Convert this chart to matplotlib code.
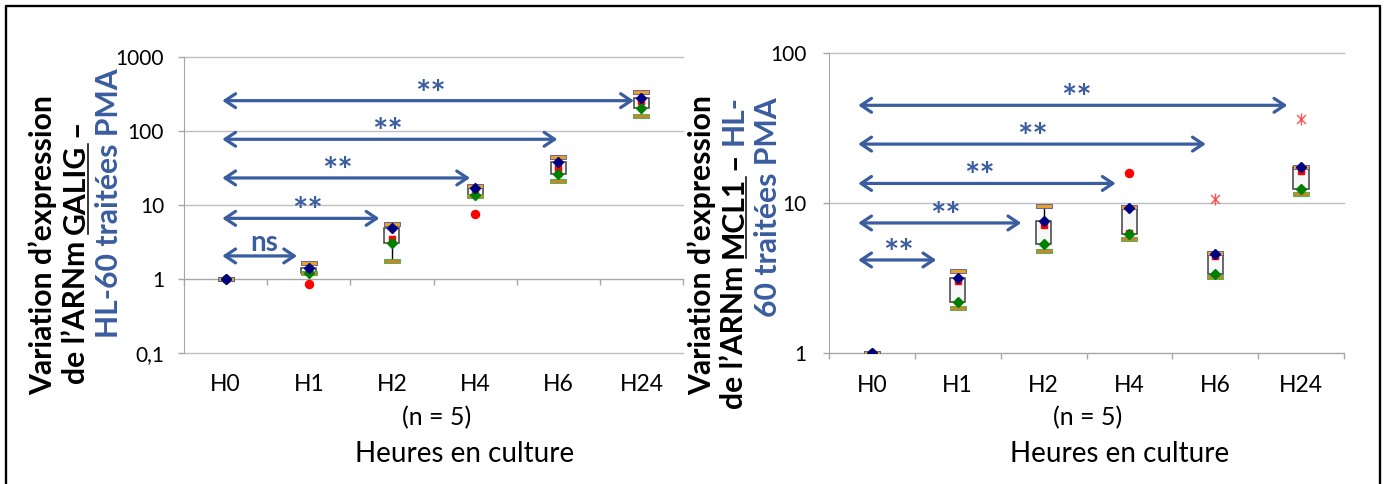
import matplotlib
matplotlib.use('Agg')
import numpy as np
import matplotlib.pyplot as plt
from matplotlib.path import Path
from matplotlib.lines import Line2D

plt.rcParams['font.family'] = ['Lato', 'DejaVu Sans']

W, H = 1386, 484
cats = ['H0', 'H1', 'H2', 'H4', 'H6', 'H24']

# GALIG (left panel)
galig_max = [1.0, 1.63, 5.5, 18.1, 44.5, 340]
galig_q3 = [1.0, 1.40, 4.85, 17.1, 38.5, 282]
galig_med = [1.0, 1.29, 3.45, 15.9, 31.9, 254]
galig_q1 = [1.0, 1.19, 3.1, 13.6, 26.5, 203]
galig_min = [1.0, 1.20, 1.77, 13.4, 21.3, 158]
galig_out_x = [1, 3]
galig_out_y = [0.86, 7.6]
# significance: start, end, height, label, label x
galig_sig = [(-0.04, 0.86, 2.05, 'ns', 0.47),
             (-0.04, 1.85, 6.6, '**', 0.98),
             (-0.04, 2.94, 23.2, '**', 1.34),
             (-0.04, 3.99, 77.3, '**', 1.95),
             (-0.04, 4.91, 257, '**', 2.47)]

# MCL1 (right panel)
mcl1_max = [1.0, 3.54, 9.6, 9.36, 4.66, 17.5]
mcl1_q3 = [1.0, 3.18, 7.62, 9.2, 4.59, 17.4]
mcl1_med = [1.0, 3.03, 7.13, 6.35, 4.43, 16.3]
mcl1_q1 = [1.0, 2.18, 5.33, 6.2, 3.35, 12.4]
mcl1_min = [1.0, 1.99, 4.79, 5.75, 3.19, 11.4]
mcl1_out_x = [3]
mcl1_out_y = [15.8]
mcl1_ext_x = [4, 5]
mcl1_ext_y = [10.6, 36.5]
mcl1_sig = [(-0.16, 0.75, 4.17, '**', 0.31),
            (-0.16, 1.74, 7.36, '**', 0.86),
            (-0.16, 2.84, 13.5, '**', 1.25),
            (-0.16, 3.89, 24.7, '**', 1.87),
            (-0.16, 4.84, 44.8, '**', 2.38)]

BLUE = '#3A5DA0'
GRID = '#BFBFBF'
AXC = '#A6A6A6'

cap = Path([(-1, -0.2), (1, -0.2), (1, 0.2), (-1, 0.2), (-1, -0.2)],
           [Path.MOVETO, Path.LINETO, Path.LINETO, Path.LINETO, Path.CLOSEPOLY])
star = Path([(0, -1), (0, 1), (-0.75, -0.75), (0.75, 0.75), (-0.75, 0.75), (0.75, -0.75)],
            [Path.MOVETO, Path.LINETO] * 3)

fig = plt.figure(figsize=(W / 100, H / 100), dpi=100, facecolor='white')
ax1 = fig.add_axes([184 / W, (H - 353) / H, 499 / W, 296 / H])
ax2 = fig.add_axes([829 / W, (H - 353) / H, 515 / W, 300 / H])


def boxes(ax, wmax, q3, med, q1, wmin):
    x = np.arange(len(cats))
    q3 = np.array(q3)
    q1 = np.array(q1)
    ax.vlines(x, q3, wmax, color='black', lw=1, zorder=2)
    ax.vlines(x, wmin, q1, color='black', lw=1, zorder=2)
    ax.bar(x, q3 - q1, bottom=q1, width=0.18, color='#F8F8F8',
           edgecolor='#404040', lw=1.1, zorder=3)
    ax.plot(x, wmin, ls='none', marker=cap, ms=12.2, mfc='#C8862A',
            mec='#3CB043', mew=0.6, zorder=4)
    ax.plot(x, wmax, ls='none', marker=cap, ms=12.2, mfc='#E8A41C',
            mec='#5050B0', mew=0.6, zorder=4)
    ax.plot(x, med, ls='none', marker='s', ms=5, color='red', zorder=5)
    ax.plot(x, q1, ls='none', marker='D', ms=5.5, color='#008000', zorder=6)
    ax.plot(x, q3, ls='none', marker='D', ms=5.5, color='#000080', zorder=7)


def sig(ax, arrows):
    for x0, x1, y, lab, lx in arrows:
        ax.annotate('', xy=(x1, y), xytext=(x0, y),
                    arrowprops=dict(arrowstyle='<->,head_length=0.75,head_width=0.5',
                                    color=BLUE, lw=2.3, shrinkA=0, shrinkB=0,
                                    mutation_scale=10), zorder=8)
        if lab == 'ns':
            ax.annotate(lab, (lx, y), xytext=(0, 9.5), textcoords='offset points',
                        ha='center', va='center', fontsize=20, fontweight='bold',
                        color=BLUE)
        else:
            ax.annotate(lab, (lx, y), xytext=(0, 4), textcoords='offset points',
                        ha='center', va='center', fontsize=26, fontweight='bold',
                        color=BLUE)


def style(ax, ymin, ymax, ticks, labels):
    ax.set_yscale('log')
    ax.set_ylim(ymin, ymax)
    ax.set_xlim(-0.5, len(cats) - 0.5)
    ax.set_yticks(ticks)
    ax.set_yticklabels(labels)
    ax.yaxis.set_minor_locator(matplotlib.ticker.NullLocator())
    ax.set_xticks(np.arange(len(cats) + 1) - 0.5)
    ax.set_xticklabels([])
    ax.tick_params(axis='y', direction='out', length=4.3, width=1, color=AXC,
                   labelsize=15, pad=10)
    ax.tick_params(axis='x', direction='out', length=4.3, width=1, color=AXC)
    ax.grid(axis='y', color=GRID, lw=1)
    for gl in ax.get_ygridlines():
        gl.set_clip_on(False)
    for s in ['top', 'right']:
        ax.spines[s].set_visible(False)
    ax.spines['left'].set_color(AXC)
    ax.spines['bottom'].set_color(AXC)
    ax.set_axisbelow(True)
    for i, c in enumerate(cats):
        ax.text(i, -0.108, c, transform=ax.get_xaxis_transform(), ha='center',
                va='center', fontsize=16.5)


style(ax1, 0.1, 1000, [0.1, 1, 10, 100, 1000], ['0,1', '1', '10', '100', '1000'])
ax1.spines['bottom'].set_position(('data', 1))
style(ax2, 1, 100, [1, 10, 100], ['1', '10', '100'])
ax2.tick_params(axis='y', pad=12)

boxes(ax1, galig_max, galig_q3, galig_med, galig_q1, galig_min)
ax1.plot(galig_out_x, galig_out_y, ls='none', marker='o', ms=5.8, color='red', zorder=5)
sig(ax1, galig_sig)

boxes(ax2, mcl1_max, mcl1_q3, mcl1_med, mcl1_q1, mcl1_min)
ax2.plot(mcl1_out_x, mcl1_out_y, ls='none', marker='o', ms=5.8, color='red', zorder=5)
ax2.plot(mcl1_ext_x, mcl1_ext_y, ls='none', marker=star, ms=8.5, mfc='none',
         mec='#FF5050', mew=1, zorder=5)
sig(ax2, mcl1_sig)

# x-axis texts
for xc in [437, 1088]:
    fig.text(xc / W, 1 - 418 / H, '(n = 5)', ha='center', va='center', fontsize=18)
for xc in [465, 1120]:
    fig.text(xc / W, 1 - 454 / H, 'Heures en culture', ha='center', va='center', fontsize=20)

# rotated multi-colour y labels
rend = fig.canvas.get_renderer()


def txt_len(s, size):
    t = fig.text(0, 0, s, rotation=90, fontsize=size, fontweight='bold')
    L = t.get_window_extent(rend).height
    t.remove()
    return L


def vline(xb, yc, pieces, size):
    gap = txt_len('x x', size) - txt_len('xx', size)
    objs = []
    for s, c, u in pieces:
        t = fig.text(0, 0, s, rotation=90, rotation_mode='anchor', ha='left',
                     va='baseline', fontsize=size, fontweight='bold', color=c)
        objs.append(t)
    lens = [t.get_window_extent(rend).height for t in objs]
    total = sum(lens) + gap * (len(objs) - 1)
    y0 = (H - yc) - total / 2
    for t, L, (s, c, u) in zip(objs, lens, pieces):
        t.set_position((xb / W, y0 / H))
        if u:
            fig.add_artist(Line2D([(xb + 3) / W] * 2, [y0 / H, (y0 + L) / H],
                                  color=c, lw=1.1, transform=fig.transFigure))
        y0 += L + gap


size = 10 * 300 / txt_len('Variation d’expression', 10)
K = 'black'
vline(52, 245, [('Variation d’expression', K, False)], size)
vline(85, 252, [('de l’ARNm', K, False), ('GALIG', K, True), ('–', K, False)], size)
vline(118, 203, [('HL-60 traitées PMA', BLUE, False)], size)
vline(711, 245, [('Variation d’expression', K, False)], size)
vline(743, 252, [('de l’ARNm', K, False), ('MCL1', K, True), ('–', K, False),
                 ('HL-', BLUE, False)], size)
vline(777, 207, [('60 traitées PMA', BLUE, False)], size)

# outer frame (bottom edge cut off)
fig.add_artist(Line2D([6 / W, 6 / W, 1380 / W, 1380 / W], [0, 1 - 6 / H, 1 - 6 / H, 0],
                      color='black', lw=1.7, transform=fig.transFigure))

fig.savefig('out.png', dpi=100, facecolor='white')
